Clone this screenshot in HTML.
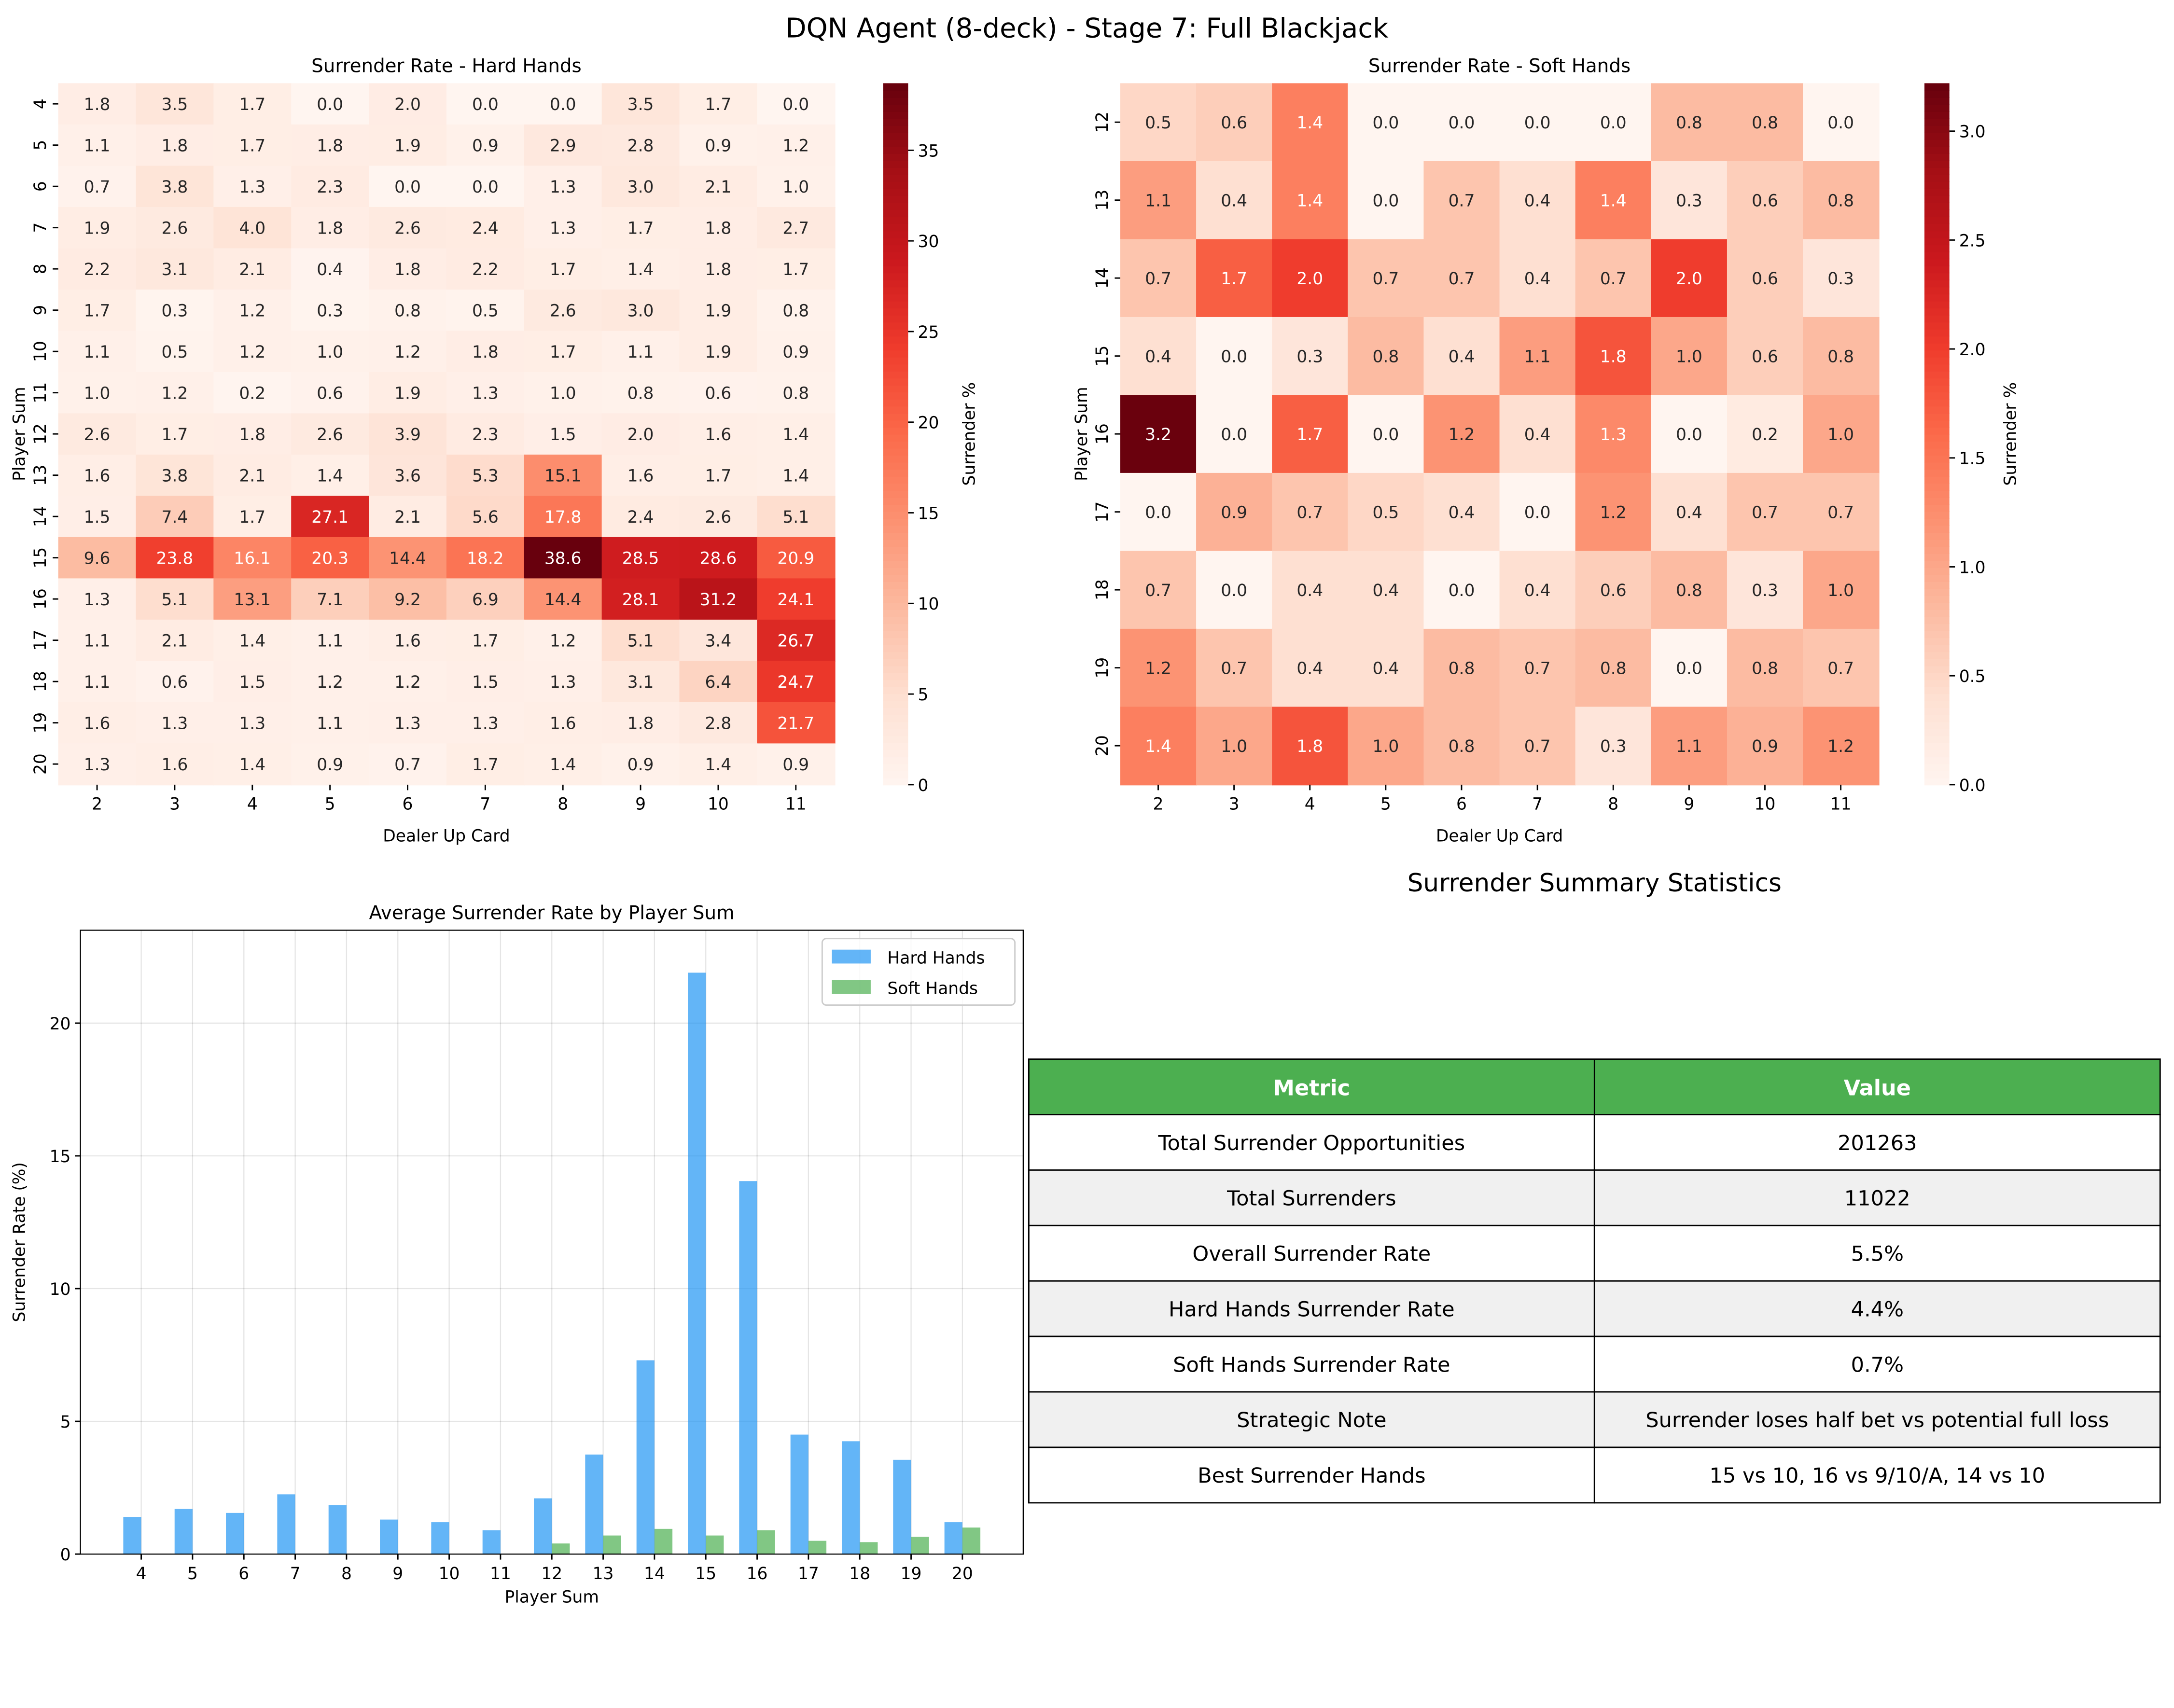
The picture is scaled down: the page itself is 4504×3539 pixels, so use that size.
<!DOCTYPE html>
<html><head><meta charset="utf-8"><style>
html,body{margin:0;padding:0;background:#fff}
svg{display:block;font-family:"DejaVu Sans","Liberation Sans",sans-serif}
</style></head><body>
<svg id="fig" width="4504" height="3539" viewBox="0 0 1568 1232" xmlns="http://www.w3.org/2000/svg">
<rect width="1568" height="1232" fill="#fff"/>
<text x="784" y="27" font-size="19.5" text-anchor="middle">DQN Agent (8-deck) - Stage 7: Full Blackjack</text>
<g id="hard"></g><g id="soft"></g><g id="bars"></g><g id="table"></g>
</svg>
<script>
const dealerCards=["2","3","4","5","6","7","8","9","10","11"];
const hardRows=[4,5,6,7,8,9,10,11,12,13,14,15,16,17,18,19,20];
const hardVals=[
[1.8,3.5,1.7,0.0,2.0,0.0,0.0,3.5,1.7,0.0],
[1.1,1.8,1.7,1.8,1.9,0.9,2.9,2.8,0.9,1.2],
[0.7,3.8,1.3,2.3,0.0,0.0,1.3,3.0,2.1,1.0],
[1.9,2.6,4.0,1.8,2.6,2.4,1.3,1.7,1.8,2.7],
[2.2,3.1,2.1,0.4,1.8,2.2,1.7,1.4,1.8,1.7],
[1.7,0.3,1.2,0.3,0.8,0.5,2.6,3.0,1.9,0.8],
[1.1,0.5,1.2,1.0,1.2,1.8,1.7,1.1,1.9,0.9],
[1.0,1.2,0.2,0.6,1.9,1.3,1.0,0.8,0.6,0.8],
[2.6,1.7,1.8,2.6,3.9,2.3,1.5,2.0,1.6,1.4],
[1.6,3.8,2.1,1.4,3.6,5.3,15.1,1.6,1.7,1.4],
[1.5,7.4,1.7,27.1,2.1,5.6,17.8,2.4,2.6,5.1],
[9.6,23.8,16.1,20.3,14.4,18.2,38.6,28.5,28.6,20.9],
[1.3,5.1,13.1,7.1,9.2,6.9,14.4,28.1,31.2,24.1],
[1.1,2.1,1.4,1.1,1.6,1.7,1.2,5.1,3.4,26.7],
[1.1,0.6,1.5,1.2,1.2,1.5,1.3,3.1,6.4,24.7],
[1.6,1.3,1.3,1.1,1.3,1.3,1.6,1.8,2.8,21.7],
[1.3,1.6,1.4,0.9,0.7,1.7,1.4,0.9,1.4,0.9]];
const hardTicks=[0,5,10,15,20,25,30,35];
const softRows=[12,13,14,15,16,17,18,19,20];
const softVals=[
[0.5,0.6,1.4,0.0,0.0,0.0,0.0,0.8,0.8,0.0],
[1.1,0.4,1.4,0.0,0.7,0.4,1.4,0.3,0.6,0.8],
[0.7,1.7,2.0,0.7,0.7,0.4,0.7,2.0,0.6,0.3],
[0.4,0.0,0.3,0.8,0.4,1.1,1.8,1.0,0.6,0.8],
[3.2,0.0,1.7,0.0,1.2,0.4,1.3,0.0,0.2,1.0],
[0.0,0.9,0.7,0.5,0.4,0.0,1.2,0.4,0.7,0.7],
[0.7,0.0,0.4,0.4,0.0,0.4,0.6,0.8,0.3,1.0],
[1.2,0.7,0.4,0.4,0.8,0.7,0.8,0.0,0.8,0.7],
[1.4,1.0,1.8,1.0,0.8,0.7,0.3,1.1,0.9,1.2]];
const softTicks=[0.0,0.5,1.0,1.5,2.0,2.5,3.0];
const barCats=[4,5,6,7,8,9,10,11,12,13,14,15,16,17,18,19,20];
const hardAvg=[1.4,1.7,1.55,2.25,1.85,1.3,1.2,0.9,2.1,3.75,7.3,21.9,14.05,4.5,4.25,3.55,1.2];
const softAvg=[0,0,0,0,0,0,0,0,0.4,0.7,0.95,0.7,0.9,0.5,0.45,0.65,1.0];
const barYTicks=[0,5,10,15,20];
const tableRows=[["Total Surrender Opportunities","201263"],["Total Surrenders","11022"],["Overall Surrender Rate","5.5%"],["Hard Hands Surrender Rate","4.4%"],["Soft Hands Surrender Rate","0.7%"],["Strategic Note","Surrender loses half bet vs potential full loss"],["Best Surrender Hands","15 vs 10, 16 vs 9/10/A, 14 vs 10"]];

const NS="http://www.w3.org/2000/svg";
const FS=12;
function mk(p,tag,at,txt){const e=document.createElementNS(NS,tag);for(const k in at)e.setAttribute(k,at[k]);if(txt!==undefined)e.textContent=txt;p.appendChild(e);return e;}
const stops=[[255,245,240],[254,224,210],[252,187,161],[252,146,114],[251,106,74],[239,59,44],[203,24,29],[165,15,21],[103,0,13]];
function reds(t){t=Math.max(0,Math.min(1,t));const s=t*8,i=Math.min(7,Math.floor(s)),f=s-i;const a=stops[i],b=stops[i+1];return [0,1,2].map(k=>Math.round(a[k]+(b[k]-a[k])*f));}
function lum(c){const l=c.map(v=>{v/=255;return v<=0.03928?v/12.92:Math.pow((v+0.055)/1.055,2.4)});return 0.2126*l[0]+0.7152*l[1]+0.0722*l[2];}

function heatmap(gid,rows,vals,x0,x1,y0,y1,vmax,ticks,cbx,title,tickFmt){
  const g=document.getElementById(gid);
  const cw=(x1-x0)/dealerCards.length,ch=(y1-y0)/rows.length;
  mk(g,'text',{x:(x0+x1)/2,y:y0-8,'font-size':13.5,'text-anchor':'middle',},title);
  for(let r=0;r<rows.length;r++)for(let c=0;c<dealerCards.length;c++){
    const v=vals[r][c],col=reds(v/vmax);
    const rc=mk(g,'rect',{x:x0+c*cw,y:y0+r*ch,width:cw+0.5,height:ch+0.5,fill:`rgb(${col})`});
    
    
    const t=mk(g,'text',{x:x0+(c+0.5)*cw,y:y0+(r+0.5)*ch+4.5,'font-size':FS,'text-anchor':'middle',fill:lum(col)<0.408?'#fff':'#262626'},v.toFixed(1));
    
    
  }
  dealerCards.forEach((d,c)=>{const x=x0+(c+0.5)*cw;mk(g,'line',{x1:x,x2:x,y1:y1,y2:y1+4,stroke:'#000'});
    const t=mk(g,'text',{x:x,y:y1+18,'font-size':FS,'text-anchor':'middle'},d);});
  rows.forEach((rv,r)=>{const y=y0+(r+0.5)*ch;mk(g,'line',{x1:x0-4,x2:x0,y1:y,y2:y,stroke:'#000'});
    const t=mk(g,'text',{x:0,y:0,'font-size':FS,'text-anchor':'middle',transform:`translate(${x0-9},${y}) rotate(-90)`},rv);});
  mk(g,'text',{x:(x0+x1)/2,y:y1+41,'font-size':FS,'text-anchor':'middle',},'Dealer Up Card');
  mk(g,'text',{x:0,y:0,'font-size':FS,'text-anchor':'middle',transform:`translate(${x0-24},${(y0+y1)/2}) rotate(-90)`,},'Player Sum');
  const cbw=18,n=100,h=(y1-y0)/n;
  for(let i=0;i<n;i++){const col=reds((i+0.5)/n);mk(g,'rect',{x:cbx,y:y1-(i+1)*h,width:cbw,height:h+0.5,fill:`rgb(${col})`});}
  mk(g,'rect',{x:cbx,y:y0,width:cbw,height:y1-y0,fill:'none',stroke:'none',});
  ticks.forEach(tv=>{const y=y1-tv/vmax*(y1-y0);mk(g,'line',{x1:cbx+cbw,x2:cbx+cbw+4,y1:y,y2:y,stroke:'#000'});
    const t=mk(g,'text',{x:cbx+cbw+7,y:y+4.5,'font-size':FS},tickFmt(tv));});
  mk(g,'text',{x:0,y:0,'font-size':FS,'text-anchor':'middle',transform:`translate(${cbx+cbw+48},${(y0+y1)/2}) rotate(-90)`,},'Surrender %');
}
heatmap('hard',hardRows,hardVals,42,602,60,566,38.7,hardTicks,637,'Surrender Rate - Hard Hands',v=>String(v));
heatmap('soft',softRows,softVals,808,1355,60,566,3.22,softTicks,1388,'Surrender Rate - Soft Hands',v=>v.toFixed(1));

(function(){
  const g=document.getElementById('bars');
  const X0=58,X1=738,Y0=671,Y1=1121;
  const xmin=-1.185,xmax=barCats.length-1+1.185;
  const xs=i=>X0+(i-xmin)/(xmax-xmin)*(X1-X0);
  const ys=v=>Y1-v*(Y1-738)/20;
  mk(g,'text',{x:(X0+X1)/2,y:Y0-8,'font-size':13.5,'text-anchor':'middle',},'Average Surrender Rate by Player Sum');
  barYTicks.forEach(v=>{const y=ys(v);mk(g,'line',{x1:X0,x2:X1,y1:y,y2:y,stroke:'#000','stroke-opacity':0.1,'stroke-width':0.8});
    mk(g,'line',{x1:X0-4,x2:X0,y1:y,y2:y,stroke:'#000'});
    const t=mk(g,'text',{x:X0-7,y:y+4.5,'font-size':FS,'text-anchor':'end'},v);});
  barCats.forEach((c,i)=>{const x=xs(i);mk(g,'line',{x1:x,x2:x,y1:Y0,y2:Y1,stroke:'#000','stroke-opacity':0.1,'stroke-width':0.8});
    mk(g,'line',{x1:x,x2:x,y1:Y1,y2:Y1+4,stroke:'#000'});
    const t=mk(g,'text',{x:x,y:Y1+18,'font-size':FS,'text-anchor':'middle'},c);});
  const bw=xs(0.35)-xs(0);
  barCats.forEach((c,i)=>{
    const yh=ys(hardAvg[i]);
    const b=mk(g,'rect',{x:xs(i-0.35),y:yh,width:bw,height:Y1-yh,fill:'#2196F3','fill-opacity':0.7});
    
    
    const ysf=ys(softAvg[i]);
    const b2=mk(g,'rect',{x:xs(i),y:ysf,width:bw,height:Y1-ysf,fill:'#4CAF50','fill-opacity':0.7});
    
    
  });
  mk(g,'rect',{x:X0,y:Y0,width:X1-X0,height:Y1-Y0,fill:'none',stroke:'#000','stroke-width':0.8});
  mk(g,'text',{x:(X0+X1)/2,y:Y1+35,'font-size':FS,'text-anchor':'middle',},'Player Sum');
  mk(g,'text',{x:0,y:0,'font-size':FS,'text-anchor':'middle',transform:`translate(${X0-40},${(Y0+Y1)/2}) rotate(-90)`,},'Surrender Rate (%)');
  const lg=mk(g,'g',{});
  mk(lg,'rect',{x:593,y:677,width:139,height:48,rx:3,fill:'#fff','fill-opacity':0.8,stroke:'#ccc'});
  mk(lg,'rect',{x:600,y:685,width:28,height:10,fill:'#2196F3','fill-opacity':0.7});
  mk(lg,'text',{x:640,y:695,'font-size':FS,},'Hard Hands');
  mk(lg,'rect',{x:600,y:707,width:28,height:10,fill:'#4CAF50','fill-opacity':0.7});
  mk(lg,'text',{x:640,y:717,'font-size':FS,},'Soft Hands');
})();

(function(){
  const g=document.getElementById('table');
  mk(g,'text',{x:1150,y:643,'font-size':18,'text-anchor':'middle',},'Surrender Summary Statistics');
  const X0=742,XM=1150,X1=1558,Y0=764,rh=40;
  mk(g,'rect',{x:X0,y:Y0,width:X1-X0,height:rh,fill:'#4CAF50',stroke:'#000'});
  mk(g,'line',{x1:XM,x2:XM,y1:Y0,y2:Y0+rh,stroke:'#000'});
  mk(g,'text',{x:(X0+XM)/2,y:Y0+26,'font-size':15.5,'font-weight':'bold',fill:'#fff','text-anchor':'middle',},'Metric');
  mk(g,'text',{x:(XM+X1)/2,y:Y0+26,'font-size':15.5,'font-weight':'bold',fill:'#fff','text-anchor':'middle',},'Value');
  tableRows.forEach((r,i)=>{const y=Y0+rh*(i+1);const fill=i%2?'#f0f0f0':'#fff';
    mk(g,'rect',{x:X0,y:y,width:XM-X0,height:rh,fill:fill,stroke:'#000'});
    mk(g,'rect',{x:XM,y:y,width:X1-XM,height:rh,fill:fill,stroke:'#000'});
    const a=mk(g,'text',{x:(X0+XM)/2,y:y+25.5,'font-size':15,'text-anchor':'middle'},r[0]);
    const b=mk(g,'text',{x:(XM+X1)/2,y:y+25.5,'font-size':15,'text-anchor':'middle'},r[1]);
  });
})();
</script>
</body></html>
